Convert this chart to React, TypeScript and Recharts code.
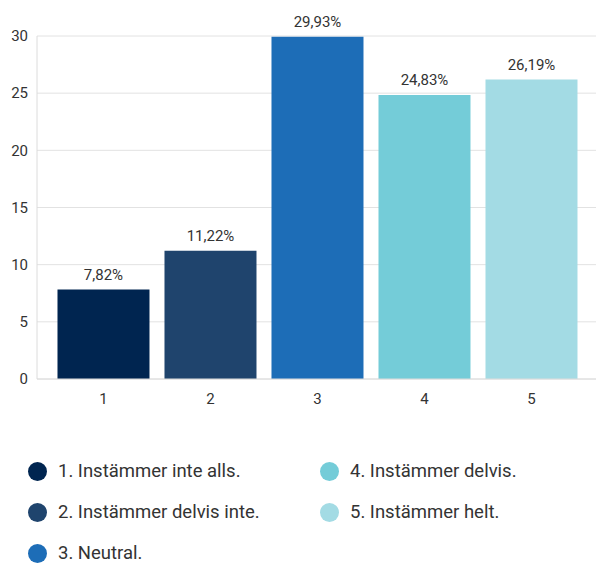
import { BarChart, Bar, XAxis, YAxis, CartesianGrid, Cell, LabelList } from 'recharts';

// Svarsalternativ och andel (%)
const categories = ['1', '2', '3', '4', '5'];
const values = [7.82, 11.22, 29.93, 24.83, 26.19];
const legendLabels = [
  '1. Instämmer inte alls.',
  '2. Instämmer delvis inte.',
  '3. Neutral.',
  '4. Instämmer delvis.',
  '5. Instämmer helt.',
];
const yTicks = [0, 5, 10, 15, 20, 25, 30];

const COLORS = ['#002550', '#1f446d', '#1d6db7', '#74ccd8', '#a3dbe4'];
const FONT = 'Roboto, "Noto Sans", sans-serif';

const data = categories.map((name, i) => ({ name, value: values[i] }));

const formatPct = (v: any) => `${Number(v).toFixed(2).replace('.', ',')}%`;

export default function App() {
  // två kolumner: 1-3 till vänster, 4-5 till höger
  const leftCol = [0, 1, 2];
  const rightCol = [3, 4];

  const renderItem = (i: number) => (
    <div key={i} style={{ display: 'flex', alignItems: 'center', height: 20, marginBottom: 21 }}>
      <span
        style={{
          width: 19,
          height: 19,
          borderRadius: '50%',
          background: COLORS[i],
          display: 'inline-block',
          marginRight: 11,
          flexShrink: 0,
        }}
      />
      <span style={{ fontSize: 18.5, lineHeight: '20px', color: '#333' }}>{legendLabels[i]}</span>
    </div>
  );

  return (
    <div style={{ position: 'absolute', left: 0, top: 0, width: 596, height: 565, background: '#fff', fontFamily: FONT, overflow: 'hidden' }}>
      <BarChart
        width={596}
        height={420}
        data={data}
        margin={{ top: 36, right: 0, bottom: 0, left: 0 }}
        barCategoryGap="7%"
      >
        <CartesianGrid vertical={false} stroke="#e2e2e2" />
        <XAxis
          dataKey="name"
          height={41}
          axisLine={{ stroke: '#dcdcdc' }}
          tickLine={false}
          tickMargin={8}
          padding={{ left: 13, right: 11 }}
          tick={{ fill: '#333', fontSize: 15, fontFamily: FONT }}
        />
        <YAxis
          width={37}
          domain={[0, 30]}
          ticks={yTicks}
          axisLine={{ stroke: '#dcdcdc' }}
          tickLine={false}
          tickMargin={3}
          tick={{ fill: '#333', fontSize: 15, fontFamily: FONT }}
        />
        <Bar dataKey="value" isAnimationActive={false}>
          {data.map((_, i) => (
            <Cell key={`cell-${i}`} fill={COLORS[i]} />
          ))}
          <LabelList
            dataKey="value"
            position="top"
            offset={10}
            formatter={formatPct}
            style={{ fill: '#333', fontSize: 15, fontFamily: FONT }}
          />
        </Bar>
      </BarChart>
      <div style={{ position: 'absolute', top: 461, left: 28, display: 'flex' }}>
        <div style={{ width: 292 }}>{leftCol.map(renderItem)}</div>
        <div>{rightCol.map(renderItem)}</div>
      </div>
    </div>
  );
}
